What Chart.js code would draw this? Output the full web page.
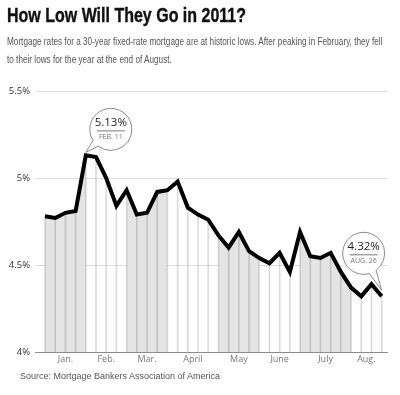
<!DOCTYPE html>
<html>
<head>
<meta charset="utf-8">
<script src="https://cdn.jsdelivr.net/npm/chart.js@4/dist/chart.umd.min.js"></script>
<style>
  html, body { margin: 0; padding: 0; background: #fff; }
  body { width: 400px; height: 395px; position: relative; overflow: hidden; }
  #title { position: absolute; left: 7px; top: 4px; white-space: nowrap; font: bold 20px "Liberation Sans Narrow", sans-serif; color: #111; -webkit-text-stroke: 0.4px #111; transform: scaleX(0.8); transform-origin: left top; }
  #sub { position: absolute; left: 7px; top: 32px; white-space: nowrap; font: 10.5px/18px "Liberation Sans Narrow", sans-serif; color: #555; transform: scaleX(0.78); transform-origin: left top; }
  #source { position: absolute; left: 20px; top: 371px; white-space: nowrap; font: 9px "Liberation Sans Narrow", sans-serif; color: #555; }
  #myChart { position: absolute; left: 0; top: 0; }
</style>
</head>
<body>
<canvas id="myChart" width="400" height="395"></canvas>
<div id="title">How Low Will They Go in 2011?</div>
<div id="sub">Mortgage rates for a 30-year fixed-rate mortgage are at historic lows. After peaking in February, they fell<br>to their lows for the year at the end of August.</div>
<div id="source">Source: Mortgage Bankers Association of America</div>
<script>
// weekly rates, Jan - Aug 2011
const rates = [4.78, 4.77, 4.80, 4.81, 5.13, 5.12, 5.00, 4.84, 4.93, 4.79, 4.80, 4.92,
  4.93, 4.98, 4.83, 4.79, 4.76, 4.67, 4.60, 4.69, 4.58, 4.54, 4.51, 4.57,
  4.46, 4.69, 4.55, 4.54, 4.57, 4.46, 4.37, 4.32, 4.39, 4.32];
const monthLabels = ['Jan.', 'Feb.', 'Mar.', 'April', 'May', 'June', 'July', 'Aug.'];
const monthCenters = [2, 6, 10, 14.5, 19, 23, 27.5, 31.5];
const shadedMonths = [[0, 4], [8, 12], [17, 21], [25, 30]];
const yTicks = [4, 4.5, 5, 5.5];
const yTickLabels = ['4%', '4.5%', '5%', '5.5%'];
const calloutIdx = [4, 33];
const calloutDates = ['FEB. 11', 'AUG. 26'];

const points = rates.map((v, i) => ({ x: i, y: v }));

const shadeSets = shadedMonths.map(r => ({
  type: 'line',
  data: points.filter(p => p.x >= r[0] && p.x <= r[1]),
  borderWidth: 0,
  pointRadius: 0,
  fill: 'start',
  backgroundColor: '#e4e4e4',
  order: 3
}));

// speech bubbles
const calloutPlugin = {
  id: 'callouts',
  afterDatasetsDraw(chart) {
    const ctx = chart.ctx;
    const xs = chart.scales.x, ys = chart.scales.y;
    const offs = [[25, -26], [-18, -43]];
    const tipOffs = [[0, -3], [0, -6]];
    calloutIdx.forEach((idx, k) => {
      const px = xs.getPixelForValue(idx);
      const py = ys.getPixelForValue(rates[idx]);
      const cx = px + offs[k][0], cy = py + offs[k][1], r = 21;
      const tx = px + tipOffs[k][0], ty = py + tipOffs[k][1];
      const a = Math.atan2(ty - cy, tx - cx);
      ctx.save();
      ctx.beginPath();
      ctx.arc(cx, cy, r, a + 0.18, a - 0.18 + Math.PI * 2);
      ctx.lineTo(tx, ty);
      ctx.closePath();
      ctx.fillStyle = '#fff';
      ctx.fill();
      ctx.strokeStyle = '#8a8a8a';
      ctx.lineWidth = 1;
      ctx.stroke();
      ctx.textAlign = 'center';
      ctx.textBaseline = 'middle';
      ctx.fillStyle = '#222';
      ctx.font = '11.5px "Open Sans", sans-serif';
      ctx.fillText(rates[idx].toFixed(2) + '%', cx, cy - 7);
      ctx.beginPath();
      ctx.moveTo(cx - 14, cy + 1.5);
      ctx.lineTo(cx + 14, cy + 1.5);
      ctx.strokeStyle = '#777';
      ctx.stroke();
      ctx.fillStyle = '#777';
      ctx.font = '7px "Open Sans", sans-serif';
      ctx.fillText(calloutDates[k], cx, cy + 8);
      ctx.restore();
    });
  }
};

new Chart(document.getElementById('myChart'), {
  type: 'line',
  data: {
    datasets: [
      {
        type: 'line',
        data: points,
        borderColor: '#000',
        borderWidth: 4,
        borderJoinStyle: 'miter',
        pointRadius: 0,
        tension: 0,
        fill: false,
        order: 0
      },
      {
        type: 'bar',
        data: points,
        backgroundColor: 'rgba(0,0,0,0.14)',
        barThickness: 1,
        order: 1
      },
      ...shadeSets
    ]
  },
  options: {
    responsive: false,
    animation: false,
    layout: { padding: { left: 0, right: 12, top: 91, bottom: 25 } },
    plugins: {
      legend: { display: false },
      tooltip: { enabled: false },
      title: { display: false }
    },
    scales: {
      x: {
        type: 'linear',
        min: -0.98,
        max: 33.62,
        offset: false,
        grid: { display: false, drawTicks: false },
        border: { display: false },
        afterBuildTicks: s => { s.ticks = monthCenters.map(v => ({ value: v })); },
        afterFit: s => { s.height = 18; },
        ticks: {
          autoSkip: false,
          maxRotation: 0,
          padding: 2,
          color: '#777',
          font: { family: 'Open Sans', size: 9 },
          callback: (v, i) => monthLabels[i]
        }
      },
      y: {
        min: 4,
        max: 5.5,
        afterBuildTicks: s => { s.ticks = yTicks.map(v => ({ value: v })); },
        afterFit: s => { s.width = 35; },
        grid: {
          drawTicks: false,
          color: c => c.tick && c.tick.value === 4 ? '#8c8c8c' : '#dedede',
          lineWidth: 1
        },
        border: { display: false },
        ticks: {
          padding: 5,
          color: '#333',
          font: { family: 'Open Sans', size: 9.5 },
          callback: (v, i) => yTickLabels[i]
        }
      }
    }
  },
  plugins: [calloutPlugin]
});
</script>
</body>
</html>
